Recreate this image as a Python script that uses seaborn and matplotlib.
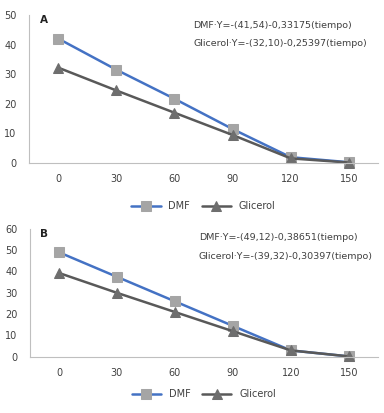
import matplotlib
matplotlib.use("Agg")
import matplotlib.pyplot as plt
import pandas as pd
import seaborn as sns

TIEMPO = ["0", "30", "60", "90", "120", "150"]
DMF_A = [42.0, 31.5, 21.7, 11.5, 2.0, 0.3]
GLI_A = [32.2, 24.5, 17.0, 9.5, 1.6, 0.2]
DMF_B = [49.0, 37.5, 26.0, 14.5, 3.0, 0.2]
GLI_B = [39.3, 30.0, 21.0, 12.0, 3.0, 0.2]
EQ_A = ["DMF·Y=-(41,54)-0,33175(tiempo)", "Glicerol·Y=-(32,10)-0,25397(tiempo)"]
EQ_B = ["DMF·Y=-(49,12)-0,38651(tiempo)", "Glicerol·Y=-(39,32)-0,30397(tiempo)"]

BLUE = "#4472c4"
DARK = "#595959"
SQ = "#a5a5a5"
TRI = "#6e6e6e"
TXT = "#404040"

sns.set_style("white")
plt.rcParams["font.family"] = ["DejaVu Sans"]


def panel(ax, dmf, gli, ymax, letter, eqs, eq_x, eq_y):
    df = pd.DataFrame({"pos": range(len(TIEMPO)), "DMF": dmf, "Glicerol": gli})
    sns.lineplot(data=df, x="pos", y="DMF", ax=ax, color=BLUE, lw=1.8,
                 marker="s", ms=6.5, mfc=SQ, mec=SQ, label="DMF", clip_on=False)
    sns.lineplot(data=df, x="pos", y="Glicerol", ax=ax, color=DARK, lw=1.8,
                 marker="^", ms=6.5, mfc=TRI, mec=TRI, label="Glicerol", clip_on=False)
    ax.set_xlim(-0.5, 5.5)
    ax.set_ylim(0, ymax)
    ax.set_yticks(range(0, ymax + 1, 10))
    ax.set_xticks(range(len(TIEMPO)))
    ax.set_xticklabels(TIEMPO)
    ax.set_xlabel("")
    ax.set_ylabel("")
    ax.tick_params(length=0, labelsize=7, colors=TXT, pad=8)
    ax.tick_params(axis="y", pad=9)
    for s in ["top", "right"]:
        ax.spines[s].set_visible(False)
    for s in ["left", "bottom"]:
        ax.spines[s].set_color("#bfbfbf")
        ax.spines[s].set_linewidth(0.8)
    ax.text(0.03, 1.0, letter, transform=ax.transAxes, fontsize=7.5,
            fontweight="bold", color="#222222", va="top")
    for txt, y in zip(eqs, eq_y):
        ax.text(eq_x, y, txt, transform=ax.transAxes, fontsize=6.8,
                color=TXT, va="center")
    ax.legend(loc="center", bbox_to_anchor=(0.5, -0.29), ncol=2, frameon=False,
              fontsize=7, handlelength=3, columnspacing=1.2, labelcolor=TXT)


fig = plt.figure(figsize=(3.84, 4.13), dpi=100)
ax_a = fig.add_axes([0.076, 0.605, 0.908, 0.359])
ax_b = fig.add_axes([0.078, 0.136, 0.906, 0.310])
panel(ax_a, DMF_A, GLI_A, 50, "A", EQ_A, 0.47, [0.93, 0.81])
panel(ax_b, DMF_B, GLI_B, 60, "B", EQ_B, 0.485, [0.93, 0.78])
fig.savefig("out.png", dpi=100)
